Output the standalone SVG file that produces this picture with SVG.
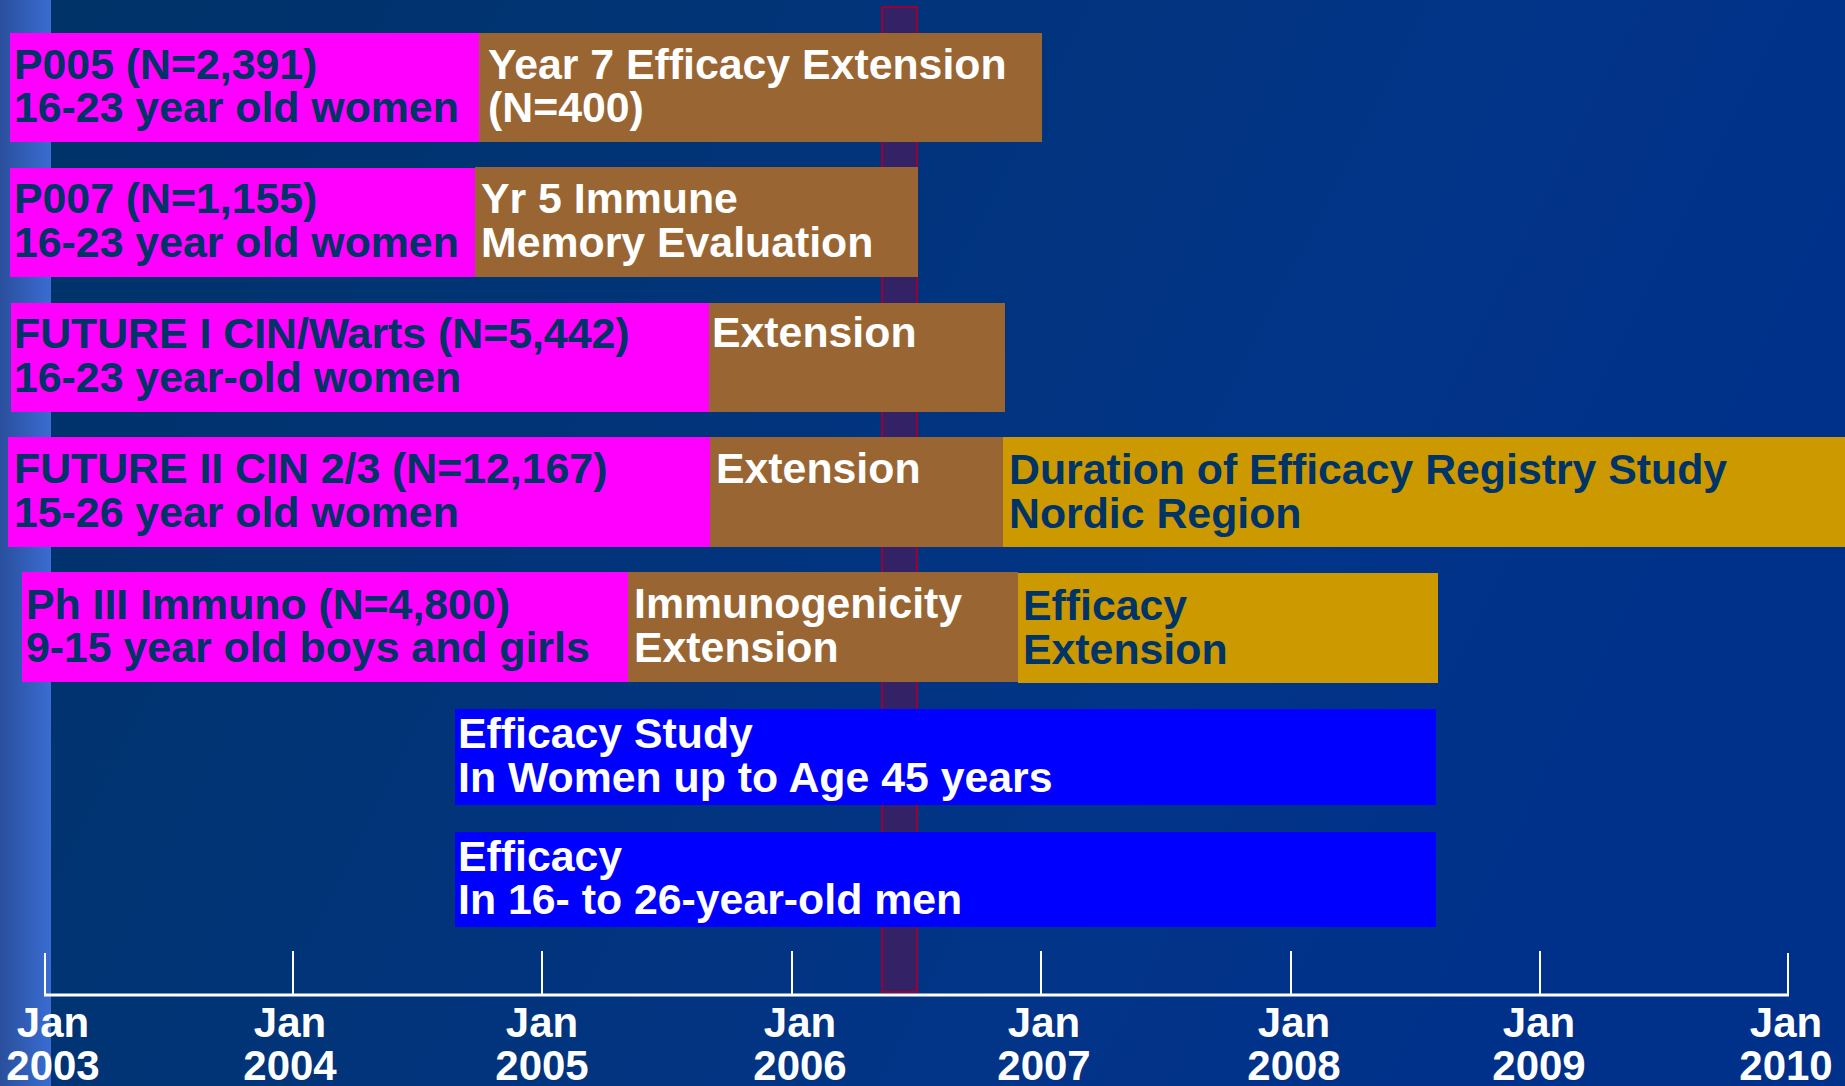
<svg xmlns="http://www.w3.org/2000/svg" width="1845" height="1086" viewBox="0 0 1845 1086">
<defs>
<linearGradient id="bg" x1="0" y1="0" x2="1" y2="0.3">
<stop offset="0" stop-color="#003366"/>
<stop offset="0.45" stop-color="#01347a"/>
<stop offset="0.75" stop-color="#023488"/>
<stop offset="1" stop-color="#00318a"/>
</linearGradient>
<linearGradient id="stripe" x1="0" y1="0" x2="1" y2="0">
<stop offset="0" stop-color="#2a4f9c"/>
<stop offset="1" stop-color="#3a6cd2"/>
</linearGradient>
<style>
.t{font-family:"Liberation Sans",Arial,sans-serif;font-weight:bold;font-size:42.8px}
.dk{fill:#003366}
.wt{fill:#ffffff}
.mag{fill:#ff00ff}
.brn{fill:#996633}
.gld{fill:#cc9900}
.blu{fill:#0000ff}
.ax{stroke:#ffffff;stroke-width:2;fill:none}
.lab{font-family:"Liberation Sans",Arial,sans-serif;font-weight:bold;font-size:42px;fill:#ffffff;text-anchor:middle}
</style>
</defs>
<rect x="0" y="0" width="1845" height="1086" fill="url(#bg)"/>
<rect x="0" y="0" width="51" height="1086" fill="url(#stripe)"/>

<g id="marker-bar">
<rect x="882" y="7" width="35" height="985" fill="#332266" stroke="#990033" stroke-width="2"/>
</g>

<g id="p005">
<rect class="mag" x="10" y="33" width="469" height="109"/>
<text class="t dk" x="14" y="79">P005 (N=2,391)</text>
<text class="t dk" x="14" y="122">16-23 year old women</text>
</g>
<g id="p005-ext">
<rect class="brn" x="479" y="33" width="563" height="109"/>
<text class="t wt" x="488" y="79">Year 7 Efficacy Extension</text>
<text class="t wt" x="488" y="122">(N=400)</text>
</g>

<g id="p007">
<rect class="mag" x="10" y="168" width="465" height="109"/>
<text class="t dk" x="14" y="213">P007 (N=1,155)</text>
<text class="t dk" x="14" y="257">16-23 year old women</text>
</g>
<g id="p007-ext">
<rect class="brn" x="475" y="167" width="443" height="110"/>
<text class="t wt" x="481" y="213">Yr 5 Immune</text>
<text class="t wt" x="481" y="257">Memory Evaluation</text>
</g>

<g id="future1">
<rect class="mag" x="11" y="303" width="698" height="109"/>
<text class="t dk" x="14" y="348">FUTURE I CIN/Warts (N=5,442)</text>
<text class="t dk" x="14" y="392">16-23 year-old women</text>
</g>
<g id="future1-ext">
<rect class="brn" x="709" y="303" width="296" height="109"/>
<text class="t wt" x="712" y="347">Extension</text>
</g>

<g id="future2">
<rect class="mag" x="8" y="437" width="702" height="110"/>
<text class="t dk" x="14" y="483">FUTURE II CIN 2/3 (N=12,167)</text>
<text class="t dk" x="14" y="527">15-26 year old women</text>
</g>
<g id="future2-ext">
<rect class="brn" x="710" y="437" width="293" height="110"/>
<text class="t wt" x="716" y="483">Extension</text>
</g>
<g id="future2-registry">
<rect class="gld" x="1003" y="437" width="842" height="110"/>
<text class="t dk" x="1009" y="484">Duration of Efficacy Registry Study</text>
<text class="t dk" x="1009" y="528">Nordic Region</text>
</g>

<g id="ph3-immuno">
<rect class="mag" x="22" y="572" width="606" height="110"/>
<text class="t dk" x="26" y="619">Ph III Immuno (N=4,800)</text>
<text class="t dk" x="26" y="662">9-15 year old boys and girls</text>
</g>
<g id="ph3-immuno-ext">
<rect class="brn" x="628" y="572" width="390" height="110"/>
<text class="t wt" x="634" y="618">Immunogenicity</text>
<text class="t wt" x="634" y="662">Extension</text>
</g>
<g id="ph3-efficacy-ext">
<rect class="gld" x="1018" y="573" width="420" height="110"/>
<text class="t dk" x="1023" y="620">Efficacy</text>
<text class="t dk" x="1023" y="664">Extension</text>
</g>

<g id="women45">
<rect class="blu" x="455" y="709" width="981" height="96"/>
<text class="t wt" x="458" y="748">Efficacy Study</text>
<text class="t wt" x="458" y="792">In Women up to Age 45 years</text>
</g>

<g id="men">
<rect class="blu" x="455" y="832" width="981" height="95"/>
<text class="t wt" x="458" y="871">Efficacy</text>
<text class="t wt" x="458" y="914">In 16- to 26-year-old men</text>
</g>

<g id="axis">
<line x1="44" y1="995" x2="1789" y2="995" stroke="#ffffff" stroke-width="3"/>
<line class="ax" x1="45" y1="953" x2="45" y2="995"/>
<line class="ax" x1="293" y1="951" x2="293" y2="995"/>
<line class="ax" x1="542" y1="951" x2="542" y2="995"/>
<line class="ax" x1="792" y1="951" x2="792" y2="995"/>
<line class="ax" x1="1041" y1="951" x2="1041" y2="995"/>
<line class="ax" x1="1291" y1="951" x2="1291" y2="995"/>
<line class="ax" x1="1540" y1="951" x2="1540" y2="995"/>
<line class="ax" x1="1788" y1="953" x2="1788" y2="995"/>
</g>
<g id="axis-labels">
<text class="lab" x="53" y="1037">Jan</text><text class="lab" x="53" y="1080">2003</text>
<text class="lab" x="290" y="1037">Jan</text><text class="lab" x="290" y="1080">2004</text>
<text class="lab" x="542" y="1037">Jan</text><text class="lab" x="542" y="1080">2005</text>
<text class="lab" x="800" y="1037">Jan</text><text class="lab" x="800" y="1080">2006</text>
<text class="lab" x="1044" y="1037">Jan</text><text class="lab" x="1044" y="1080">2007</text>
<text class="lab" x="1294" y="1037">Jan</text><text class="lab" x="1294" y="1080">2008</text>
<text class="lab" x="1539" y="1037">Jan</text><text class="lab" x="1539" y="1080">2009</text>
<text class="lab" x="1786" y="1037">Jan</text><text class="lab" x="1786" y="1080">2010</text>
</g>
</svg>
